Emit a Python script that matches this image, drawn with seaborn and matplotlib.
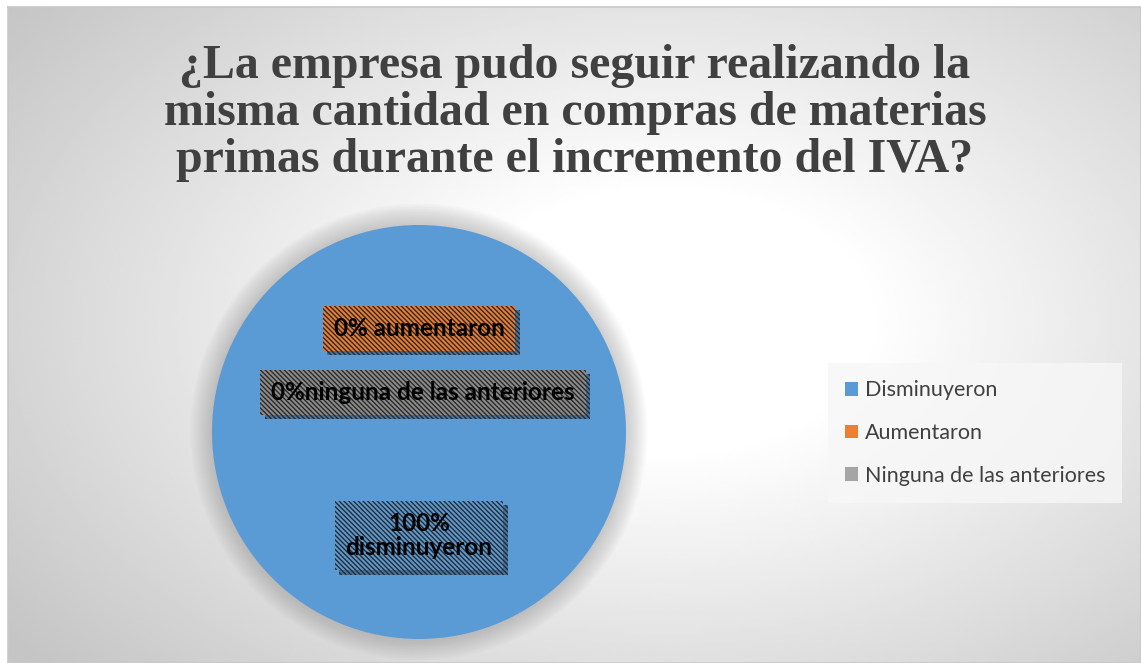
import numpy as np
import matplotlib.pyplot as plt
import matplotlib.patheffects as pe
from matplotlib.patches import Patch, Circle
import seaborn as sns

# datos del gráfico
categorias = ["Disminuyeron", "Aumentaron", "Ninguna de las anteriores"]
valores = [100, 0, 0]
etiquetas = ["100%\ndisminuyeron", "0% aumentaron", "0%ninguna de las anteriores"]
colores = ["#5B9BD5", "#ED7D31", "#A5A5A5"]
titulo = ("¿La empresa pudo seguir realizando la\n"
          "misma cantidad en compras de materias\n"
          "primas durante el incremento del IVA?")

sns.set_style("white")
plt.rcParams['font.family'] = ['Lato', 'DejaVu Sans']
plt.rcParams['hatch.linewidth'] = 1.0

W, H = 1141, 663
fig = plt.figure(figsize=(W / 100, H / 100), dpi=100)
fig.patch.set_facecolor("white")

# fondo con degradado radial
bg = fig.add_axes([8 / W, 0, 1 - 8 / W, 1 - 7 / H])
nx, ny = 400, 240
xx, yy = np.meshgrid(np.linspace(0, 1, nx), np.linspace(0, 1, ny))
r = np.sqrt(((xx - 0.58) / 1.0) ** 2 + ((yy - 0.48) / 1.1) ** 2)
t = np.clip((r - 0.18) / 0.55, 0, 1)
gris = 1.0 - t * (1.0 - 0.77)
bg.imshow(gris, cmap="gray", vmin=0, vmax=1, extent=[0, 1, 0, 1],
          aspect="auto", origin="upper", interpolation="bilinear")
bg.set_xlim(0, 1)
bg.set_ylim(0, 1)
for s in bg.spines.values():
    s.set_color("#c8c8c8")
    s.set_linewidth(1.2)
bg.set_xticks([])
bg.set_yticks([])

# gráfico circular
R = 207
cx, cy = 419, 432
ax = fig.add_axes([(cx - 1.2 * R) / W, (H - cy - 1.1 * R) / H, 2.4 * R / W, 2.4 * R / H])

# halo / sombra alrededor del círculo
for k in range(14):
    ax.add_patch(Circle((0, 0), 1.0 + 0.008 * k, color="#808080",
                        alpha=0.03, lw=0, zorder=0))

ax.pie(valores, colors=colores, startangle=90, counterclock=False,
       radius=1.0, wedgeprops=dict(linewidth=0), frame=True)
ax.set_xlim(-1.2, 1.2)
ax.set_ylim(-1.1, 1.3)
ax.set_aspect("auto")
ax.axis("off")

pos_etiquetas = [(0.0, -0.50), (0.0, 0.50), (0.02, 0.19)]
for etq, col, (x, y) in zip(etiquetas, colores, pos_etiquetas):
    fc = col if col != "#A5A5A5" else "#8c8c8c"
    txt = ax.text(x, y, etq, ha="center", va="center", fontsize=17.5,
                  fontweight="bold", color="black", linespacing=1.1,
                  bbox=dict(boxstyle="square,pad=0.45", facecolor=fc,
                            edgecolor="#2a2a2a", linewidth=0,
                            hatch="\\" * 7), zorder=5)
    txt.get_bbox_patch().set_path_effects(
        [pe.SimplePatchShadow(offset=(3, -3), shadow_rgbFace="#1f3b5c", alpha=0.4),
         pe.Normal()])

# título
fig.text(575 / W, 1 - 113 / H, titulo, ha="center", va="center",
         fontsize=34.5, fontweight="bold", color="#404040",
         family=["Liberation Serif", "DejaVu Serif"], linespacing=1.08)

# leyenda
handles = [Patch(facecolor=c, edgecolor="none") for c in colores]
leg = fig.legend(handles, categorias, loc="center left",
                 bbox_to_anchor=(828 / W, 1 - 433 / H), frameon=True,
                 fontsize=15.5, labelcolor="#404040", handlelength=0.6,
                 handleheight=0.6, handletextpad=0.3, labelspacing=1.05,
                 borderpad=0.8, borderaxespad=0, fancybox=False)
leg.get_frame().set_facecolor("#f7f7f7")
leg.get_frame().set_edgecolor("none")
leg.get_frame().set_alpha(0.8)

fig.savefig("out.png", dpi=100)
